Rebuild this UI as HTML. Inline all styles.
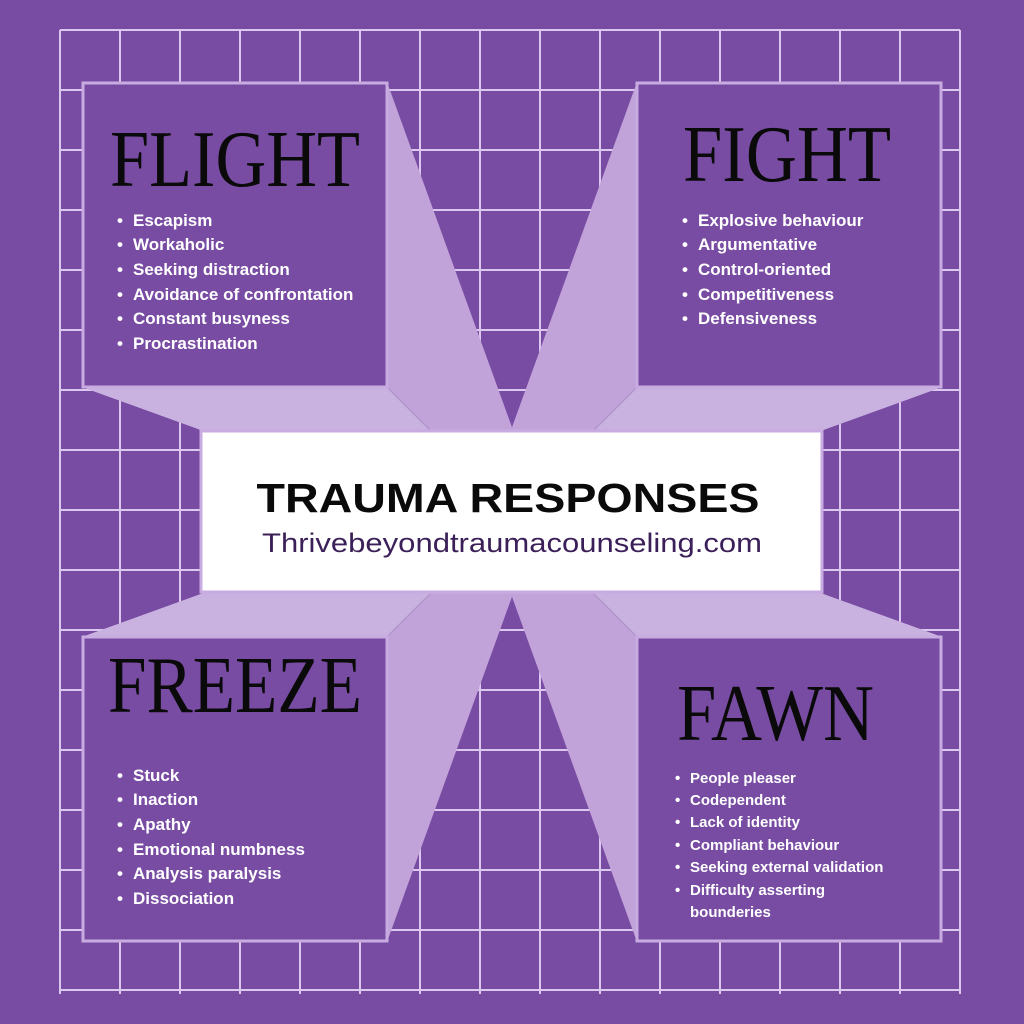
<!DOCTYPE html>
<html><head><meta charset="utf-8"><style>
html,body{margin:0;padding:0;background:#794ca3;}
svg{display:block}
.t{font-family:"Liberation Serif",serif;fill:#0a0a0a;}
.b{font-family:"Liberation Sans",sans-serif;font-weight:bold;fill:#fff;}
</style></head><body>
<svg width="1024" height="1024" viewBox="0 0 1024 1024" xmlns="http://www.w3.org/2000/svg">
<rect width="1024" height="1024" fill="#794ca3"/>
<g stroke="#dcc8ee" stroke-width="2">
<path d="M60 30V994M120 30V994M180 30V994M240 30V994M300 30V994M360 30V994M420 30V994M480 30V994M540 30V994M600 30V994M660 30V994M720 30V994M780 30V994M840 30V994M900 30V994M960 30V994"/>
<path d="M60 30H960M60 90H960M60 150H960M60 210H960M60 270H960M60 330H960M60 390H960M60 450H960M60 510H960M60 570H960M60 630H960M60 690H960M60 750H960M60 810H960M60 870H960M60 930H960M60 990H960"/>
</g>
<g id="ext">
<polygon points="387,82 513,430 430,513 82,387" fill="#c1a3d9"/>
<polygon points="82,387 387,387 430,430 430,513" fill="#c9b2e0"/>
<line x1="387" y1="387" x2="430" y2="430" stroke="#b196cc" stroke-width="1.5"/>
</g>
<use href="#ext" transform="translate(1024,0) scale(-1,1)"/>
<use href="#ext" transform="translate(0,1024) scale(1,-1)"/>
<use href="#ext" transform="translate(1024,1024) scale(-1,-1)"/>
<g fill="#794ca3" stroke="#c8abe0" stroke-width="3">
<rect x="83" y="83" width="304" height="304"/>
<rect x="637" y="83" width="304" height="304"/>
<rect x="83" y="637" width="304" height="304"/>
<rect x="637" y="637" width="304" height="304"/>
</g>
<rect x="201" y="431" width="621" height="161" fill="#fff" stroke="#c8abe0" stroke-width="3"/>
<text x="508" y="512" text-anchor="middle" font-family="Liberation Sans,sans-serif" font-weight="bold" font-size="41" fill="#0a0a0a" textLength="503" lengthAdjust="spacingAndGlyphs">TRAUMA RESPONSES</text>
<text x="512" y="552" text-anchor="middle" font-family="Liberation Sans,sans-serif" font-size="27" fill="#3b1f58" textLength="500" lengthAdjust="spacingAndGlyphs">Thrivebeyondtraumacounseling.com</text>

<text class="t" x="110" y="186" font-size="80" textLength="250" lengthAdjust="spacingAndGlyphs">FLIGHT</text>
<text class="t" x="683" y="181" font-size="80" textLength="208" lengthAdjust="spacingAndGlyphs">FIGHT</text>
<text class="t" x="108" y="712" font-size="80" textLength="254" lengthAdjust="spacingAndGlyphs">FREEZE</text>
<text class="t" x="677" y="740" font-size="80" textLength="197" lengthAdjust="spacingAndGlyphs">FAWN</text>

<g class="b" font-size="17">
<text x="117" y="226">•</text><text x="133" y="226">Escapism</text>
<text x="117" y="250">•</text><text x="133" y="250">Workaholic</text>
<text x="117" y="275">•</text><text x="133" y="275">Seeking distraction</text>
<text x="117" y="300">•</text><text x="133" y="300">Avoidance of confrontation</text>
<text x="117" y="324">•</text><text x="133" y="324">Constant busyness</text>
<text x="117" y="349">•</text><text x="133" y="349">Procrastination</text>

<text x="682" y="226">•</text><text x="698" y="226">Explosive behaviour</text>
<text x="682" y="250">•</text><text x="698" y="250">Argumentative</text>
<text x="682" y="275">•</text><text x="698" y="275">Control-oriented</text>
<text x="682" y="300">•</text><text x="698" y="300">Competitiveness</text>
<text x="682" y="324">•</text><text x="698" y="324">Defensiveness</text>

<text x="117" y="781">•</text><text x="133" y="781">Stuck</text>
<text x="117" y="805">•</text><text x="133" y="805">Inaction</text>
<text x="117" y="830">•</text><text x="133" y="830">Apathy</text>
<text x="117" y="855">•</text><text x="133" y="855">Emotional numbness</text>
<text x="117" y="879">•</text><text x="133" y="879">Analysis paralysis</text>
<text x="117" y="904">•</text><text x="133" y="904">Dissociation</text>
</g>
<g class="b" font-size="15">
<text x="675" y="783">•</text><text x="690" y="783">People pleaser</text>
<text x="675" y="805">•</text><text x="690" y="805">Codependent</text>
<text x="675" y="827">•</text><text x="690" y="827">Lack of identity</text>
<text x="675" y="850">•</text><text x="690" y="850">Compliant behaviour</text>
<text x="675" y="872">•</text><text x="690" y="872">Seeking external validation</text>
<text x="675" y="895">•</text><text x="690" y="895">Difficulty asserting</text>
<text x="690" y="917">bounderies</text>
</g>
</svg>
</body></html>
